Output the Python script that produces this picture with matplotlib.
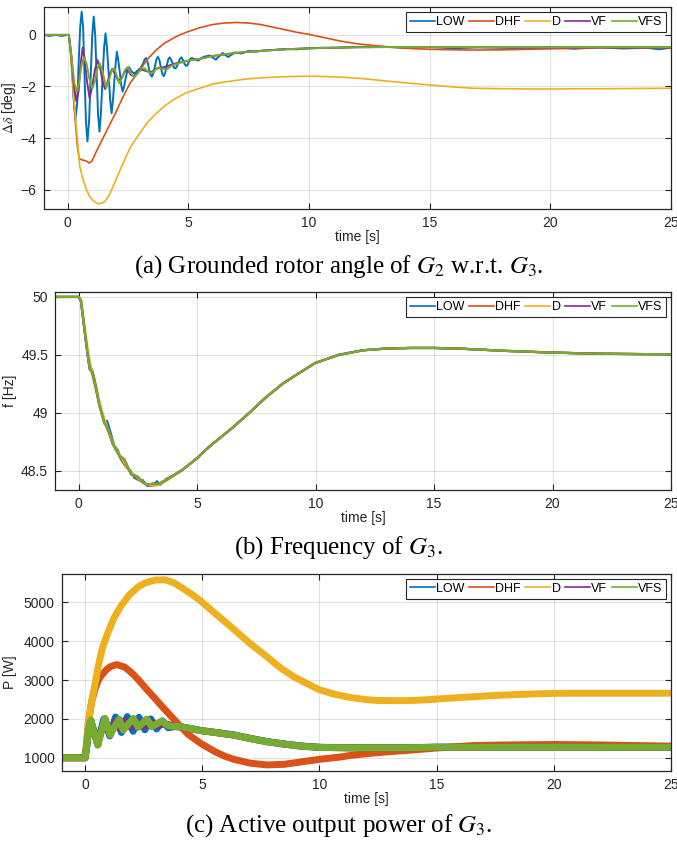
import matplotlib
matplotlib.use('Agg')
import matplotlib.pyplot as plt

# series names and MATLAB default colours
names = ['LOW', 'DHF', 'D', 'VF', 'VFS']
colors = ['#0072BD', '#D95319', '#EDB120', '#7E2F8E', '#77AC30']

# ---- (a) rotor angle deviation [deg] ----
d_low_t = [-1, -0.75, -0.5, -0.25, 0.05, 0.15, 0.25, 0.32, 0.40, 0.45, 0.52, 0.58, 0.64, 0.70, 0.76,
           0.82, 0.89, 0.95, 1.02, 1.08, 1.14, 1.20, 1.26, 1.32, 1.38, 1.45, 1.51, 1.57, 1.63, 1.70,
           1.76, 1.82, 1.88, 1.93, 1.99, 2.04, 2.10, 2.16, 2.22, 2.28, 2.34, 2.40, 2.47, 2.53, 2.60,
           2.65, 2.77, 2.90, 3.01, 3.13, 3.19, 3.25, 3.31, 3.37, 3.43, 3.49, 3.55, 3.62, 3.68, 3.74,
           3.80, 3.86, 3.92, 3.98, 4.04, 4.10, 4.17, 4.23, 4.29, 4.35, 4.41, 4.47, 4.53, 4.60, 4.66,
           4.72, 4.78, 4.84, 4.90, 4.96, 5.02, 5.08, 5.15, 5.27, 5.40, 5.64, 5.89, 6.14, 6.42, 6.65,
           6.93, 7.2, 7.5, 7.8, 8.2, 8.6, 9.0, 9.5, 10.0, 10.5, 11, 12, 13, 14, 15, 16, 17, 18, 19,
           20, 21, 22, 23, 24, 24.5, 25]
d_low = [0, -0.04, 0.0, -0.04, 0.0, -0.8, -2.5, -3.3, -2.6, -1.2, 0.3, 0.9, 0.3, -1.6, -3.4,
         -4.13, -3.3, -1.7, 0.0, 0.71, 0.0, -1.5, -3.1, -3.75, -3.0, -1.6, -0.5, 0.06, -0.5, -1.5,
         -2.5, -3.04, -2.5, -1.85, -1.1, -0.65, -1.0, -1.45, -1.95, -2.2, -2.0, -1.7, -1.4, -1.25, -1.35,
         -1.42, -1.5, -1.38, -1.3, -1.1, -0.95, -0.9, -1.05, -1.3, -1.55, -1.62, -1.5, -1.2, -0.95, -0.85,
         -0.97, -1.25, -1.5, -1.6, -1.48, -1.22, -0.95, -0.87, -0.97, -1.1, -1.28, -1.3, -1.22, -1.05, -0.92,
         -0.87, -0.98, -1.12, -1.2, -1.18, -1.05, -0.93, -0.9, -0.95, -1.0, -0.85, -0.8, -0.96, -0.7, -0.86,
         -0.68, -0.72, -0.62, -0.65, -0.6, -0.58, -0.55, -0.56, -0.52, -0.5, -0.5, -0.47, -0.46, -0.5, -0.47,
         -0.52, -0.48, -0.5, -0.52, -0.47, -0.54, -0.48, -0.53, -0.5, -0.56, -0.5]

d_dhf_t = [-1, 0.05, 0.15, 0.25, 0.33, 0.4, 0.48, 0.6, 0.75, 0.9, 1.0, 1.2, 1.6, 2.0, 2.3, 2.6, 2.99,
           3.3, 3.68, 4.0, 4.37, 4.65, 5.0, 5.48, 6.0, 6.5, 7.0, 7.5, 8.0, 8.5, 9.0, 9.5, 10, 10.6,
           11.3, 12.1, 13.1, 14, 15, 16, 16.8, 18, 19.6, 21, 22.3, 25]
d_dhf = [0, 0, -1.0, -2.4, -3.5, -4.3, -4.8, -4.85, -4.88, -4.97, -4.9, -4.5, -3.75, -3.0, -2.39, -1.85,
         -1.36, -0.95, -0.58, -0.33, -0.13, 0.0, 0.13, 0.28, 0.4, 0.46, 0.48, 0.46, 0.4, 0.3, 0.2, 0.1,
         0.02, -0.1, -0.24, -0.36, -0.45, -0.52, -0.56, -0.58, -0.59, -0.58, -0.55, -0.52, -0.5, -0.5]

d_d_t = [-1, 0.05, 0.15, 0.25, 0.36, 0.5, 0.64, 0.78, 0.91, 1.08, 1.26, 1.4, 1.54, 1.7, 1.88, 2.1, 2.3,
         2.6, 2.99, 3.3, 3.68, 4.0, 4.37, 4.9, 5.48, 6.03, 6.7, 7.41, 8.1, 8.8, 9.5, 10.17, 10.8, 11.55,
         12.3, 13.1, 14, 15, 16, 16.8, 18.1, 19.8, 21, 22.3, 23.5, 25]
d_d = [0, 0, -1.0, -2.4, -3.55, -5.1, -5.62, -6.0, -6.27, -6.45, -6.55, -6.53, -6.46, -6.25, -5.88, -5.4,
       -4.97, -4.35, -3.81, -3.4, -3.04, -2.77, -2.52, -2.25, -2.07, -1.9, -1.8, -1.71, -1.66, -1.63, -1.61,
       -1.6, -1.62, -1.65, -1.7, -1.78, -1.86, -1.94, -2.02, -2.07, -2.09, -2.1, -2.09, -2.09, -2.08, -2.07]

d_vf_t = [-1, 0.05, 0.15, 0.25, 0.36, 0.45, 0.53, 0.62, 0.7, 0.8, 0.91, 1.02, 1.13, 1.24, 1.35, 1.45,
          1.55, 1.65, 1.75, 1.85, 1.98, 2.1, 2.22, 2.35, 2.48, 2.62, 2.75, 2.9, 3.05, 3.25, 3.45, 3.7,
          4.0, 4.5, 5, 5.5, 6, 7, 8, 9, 10, 11, 12, 14, 16, 18, 20, 22, 25]
d_vf = [0, 0, -0.8, -1.9, -2.58, -2.2, -1.2, -0.5, -0.9, -1.8, -2.45, -2.0, -1.35, -0.98, -1.3, -1.8,
        -2.1, -1.85, -1.5, -1.32, -1.55, -1.78, -1.7, -1.45, -1.35, -1.55, -1.6, -1.45, -1.35, -1.4, -1.45,
        -1.3, -1.25, -1.1, -1.0, -0.92, -0.82, -0.7, -0.62, -0.56, -0.52, -0.5, -0.48, -0.47, -0.48, -0.48,
        -0.49, -0.48, -0.48]

d_vfs_t = [-1, 0.05, 0.15, 0.28, 0.39, 0.48, 0.58, 0.68, 0.78, 0.9, 1.02, 1.12, 1.22, 1.33, 1.45, 1.6,
           1.72, 1.82, 1.93, 2.04, 2.14, 2.26, 2.38, 2.48, 2.6, 2.75, 2.9, 3.05, 3.2, 3.35, 3.5, 3.7, 3.9,
           4.1, 4.3, 4.6, 5, 5.5, 6, 6.5, 7, 7.5, 8, 9, 10, 11, 12, 13, 14, 16, 18, 20, 22, 25]
d_vfs = [0, 0, -0.8, -1.9, -2.2, -1.8, -1.15, -0.87, -1.1, -1.7, -2.07, -1.85, -1.35, -1.1, -1.45, -2.05,
         -1.75, -1.4, -1.29, -1.6, -1.88, -1.65, -1.35, -1.25, -1.45, -1.65, -1.5, -1.3, -1.3, -1.45, -1.48,
         -1.3, -1.3, -1.35, -1.2, -1.1, -1.0, -0.93, -0.82, -0.75, -0.7, -0.65, -0.62, -0.56, -0.52, -0.5,
         -0.48, -0.47, -0.47, -0.47, -0.48, -0.48, -0.47, -0.47]

# ---- (b) frequency [Hz] ----
f_t = [-1, 0, 0.1, 0.24, 0.38, 0.48, 0.59, 0.73, 0.87, 1.08, 1.23, 1.44, 1.72, 1.93, 2.21, 2.49, 2.85,
       3.13, 3.41, 3.83, 4.39, 5.0, 5.52, 6.0, 6.48, 7.2, 7.88, 8.6, 9.28, 9.98, 10.97, 12, 13, 14, 15,
       16, 17, 18, 20, 22, 25]
f_smooth = [50, 50, 49.96, 49.72, 49.5, 49.4, 49.32, 49.2, 49.07, 48.93, 48.85, 48.74, 48.63, 48.56, 48.48,
            48.43, 48.38, 48.38, 48.39, 48.44, 48.51, 48.61, 48.71, 48.79, 48.87, 49.0, 49.13, 49.25,
            49.34, 49.43, 49.5, 49.54, 49.555, 49.56, 49.56, 49.555, 49.545, 49.535, 49.52, 49.51, 49.505]
f_lag = [50, 50, 49.98, 49.77, 49.55, 49.43, 49.35, 49.24, 49.1, 48.95, 48.87, 48.75, 48.64, 48.57, 48.49,
         48.44, 48.38, 48.37, 48.38, 48.43, 48.51, 48.61, 48.71, 48.79, 48.87, 49.0, 49.13, 49.25,
         49.34, 49.43, 49.5, 49.54, 49.555, 49.56, 49.56, 49.555, 49.545, 49.535, 49.52, 49.51, 49.505]
f_step = [50, 50, 49.96, 49.73, 49.5, 49.37, 49.35, 49.22, 49.07, 48.91, 48.87, 48.73, 48.63, 48.6, 48.47,
          48.45, 48.38, 48.39, 48.39, 48.44, 48.51, 48.61, 48.71, 48.79, 48.87, 49.0, 49.13, 49.25,
          49.34, 49.43, 49.5, 49.54, 49.555, 49.56, 49.56, 49.555, 49.545, 49.535, 49.52, 49.51, 49.505]
f_low_t = [-1, 0, 0.1, 0.24, 0.38, 0.46, 0.55, 0.65, 0.8, 0.95, 1.1, 1.2, 1.32, 1.5, 1.65, 1.78, 1.95,
           2.2, 2.35, 2.55, 2.7, 2.9, 3.1, 3.3, 3.45, 3.7, 3.9, 4.39, 5.0, 5.52, 6.0, 6.48, 7.2, 7.88,
           8.6, 9.28, 9.98, 10.97, 12, 13, 14, 15, 16, 17, 18, 20, 22, 25]
f_low = [50, 50, 49.96, 49.73, 49.5, 49.38, 49.38, 49.3, 49.15, 49.02, 48.92, 48.93, 48.85, 48.72, 48.68,
         48.6, 48.55, 48.5, 48.44, 48.42, 48.42, 48.37, 48.37, 48.41, 48.38, 48.43, 48.45, 48.51, 48.61,
         48.71, 48.79, 48.87, 49.0, 49.13, 49.25, 49.34, 49.43, 49.5, 49.54, 49.555, 49.56, 49.56, 49.555,
         49.545, 49.535, 49.52, 49.51, 49.505]

# ---- (c) active power [W] ----
p_d_t = [-1, 0, 0.07, 0.14, 0.25, 0.36, 0.47, 0.57, 0.75, 0.99, 1.25, 1.56, 1.9, 2.27, 2.6, 2.98, 3.41,
         3.8, 4.12, 4.5, 4.91, 5.5, 6.34, 7.0, 7.76, 8.3, 8.9, 9.5, 10.0, 10.6, 11.32, 12.0, 12.46, 13.0,
         13.75, 14.5, 15.03, 16, 17.3, 18.5, 20, 21, 22.3, 23.5, 25]
p_d = [1000, 1000, 1400, 1927, 2350, 2700, 3050, 3386, 3850, 4245, 4620, 4931, 5200, 5403, 5510, 5575,
       5580, 5500, 5380, 5230, 5050, 4740, 4310, 3960, 3600, 3330, 3086, 2900, 2750, 2640, 2550, 2495,
       2475, 2470, 2470, 2490, 2513, 2550, 2598, 2630, 2658, 2660, 2660, 2660, 2660]

p_dhf_t = [-1, 0, 0.07, 0.14, 0.28, 0.43, 0.57, 0.71, 0.9, 1.07, 1.35, 1.7, 2.0, 2.27, 2.6, 2.98, 3.3,
           3.69, 4.0, 4.4, 4.91, 5.3, 5.63, 6.0, 6.34, 7.05, 7.76, 8.48, 9.19, 10, 10.9, 11.32, 12.3,
           12.75, 13.75, 15, 16.6, 18, 20, 22, 25]
p_dhf = [1000, 1000, 1400, 1900, 2442, 2785, 3000, 3129, 3260, 3343, 3400, 3330, 3180, 3010, 2780, 2528,
         2310, 2056, 1850, 1600, 1380, 1240, 1130, 1030, 960, 860, 815, 830, 890, 960, 1020, 1060, 1120,
         1145, 1190, 1250, 1316, 1330, 1342, 1330, 1300]

p_vfs_t = [-1, 0, 0.07, 0.14, 0.24, 0.39, 0.54, 0.7, 0.85, 0.96, 1.07, 1.26, 1.45, 1.54, 1.63, 1.85,
           2.06, 2.17, 2.27, 2.45, 2.63, 2.74, 2.84, 3.05, 3.27, 3.41, 3.55, 3.8, 4.12, 4.5, 4.97, 5.54,
           6.34, 7.0, 7.76, 8.5, 9.19, 10, 11.32, 13.46, 15, 17, 20, 22, 25]
p_vfs = [1000, 1000, 1300, 1670, 1970, 1650, 1326, 1700, 2013, 1800, 1584, 1800, 1996, 1850, 1712, 1870,
         2013, 1900, 1781, 1890, 1996, 1900, 1798, 1870, 1944, 1880, 1824, 1810, 1798, 1750, 1695, 1652,
         1584, 1500, 1412, 1350, 1300, 1266, 1255, 1255, 1270, 1270, 1275, 1270, 1270]

p_low_t = [-1, 0, 0.07, 0.14, 0.24, 0.39, 0.54, 0.67, 0.8, 0.92, 1.05, 1.18, 1.3, 1.42, 1.55, 1.68, 1.8,
           1.92, 2.05, 2.18, 2.3, 2.42, 2.55, 2.68, 2.8, 2.92, 3.05, 3.18, 3.3, 3.42, 3.55, 3.8, 4.12, 4.5,
           4.97, 5.54, 6.34, 7.0, 7.76, 8.5, 9.19, 10, 11.32, 13.46, 15, 17, 20, 22, 25]
p_low = [1000, 1000, 1300, 1670, 1970, 1650, 1330, 1700, 2000, 1800, 1560, 1820, 2050, 1860, 1650, 1870,
         2060, 1880, 1680, 1880, 2040, 1880, 1720, 1870, 2000, 1870, 1740, 1850, 1950, 1860, 1770, 1800,
         1790, 1750, 1700, 1655, 1590, 1505, 1418, 1355, 1305, 1270, 1258, 1258, 1272, 1272, 1277, 1272, 1272]

p_vf_t = [-1, 0, 0.07, 0.14, 0.24, 0.39, 0.54, 0.7, 0.85, 1.07, 1.3, 1.5, 1.7, 1.95, 2.2, 2.5, 2.8,
          3.1, 3.4, 3.8, 4.12, 4.97, 5.54, 6.34, 7.0, 7.76, 8.5, 9.19, 10, 11.32, 13.46, 15, 17, 20, 22, 25]
p_vf = [1000, 1000, 1300, 1670, 1950, 1660, 1350, 1700, 1980, 1620, 1950, 1750, 1960, 1780, 1950, 1800,
        1930, 1820, 1880, 1810, 1795, 1695, 1652, 1584, 1500, 1412, 1350, 1300, 1266, 1255, 1255, 1270,
        1270, 1275, 1270, 1270]

xticks = [0, 5, 10, 15, 20, 25]

plt.rcParams['font.family'] = ['Liberation Sans', 'DejaVu Sans']
plt.rcParams['mathtext.fontset'] = 'stix'

ink = '#262626'


def style_axes(ax, ylim, yticks, ylabel, label_x):
    ax.set_xlim(-1, 25)
    ax.set_ylim(*ylim)
    ax.set_xticks(xticks)
    ax.set_yticks(yticks)
    ax.grid(True, color=ink, alpha=0.13, linewidth=0.8)
    ax.set_axisbelow(True)
    ax.tick_params(direction='in', length=4, width=0.8, colors=ink, labelsize=10,
                   top=True, right=True, pad=5)
    for s in ax.spines.values():
        s.set_color(ink)
        s.set_linewidth(0.9)
    ax.set_xlabel('time [s]', fontsize=10, color=ink, labelpad=0)
    ax.set_ylabel(ylabel, fontsize=10, color=ink)
    ax.yaxis.set_label_coords(label_x, 0.5)


def add_legend(ax):
    leg = ax.legend(names, loc='upper right', ncol=5, fontsize=9, handlelength=2.0,
                    handletextpad=0.1, columnspacing=0.35, borderpad=0.3, borderaxespad=0.4,
                    fancybox=False, framealpha=1, edgecolor=ink)
    leg.get_frame().set_linewidth(0.8)
    for h in leg.legend_handles:
        h.set_linewidth(1.2)


fig = plt.figure(figsize=(6.77, 8.46), dpi=100)

# (a)
ax1 = fig.add_axes([0.0643, 0.753, 0.9267, 0.2384])
ax1.plot(d_low_t, d_low, color=colors[0], lw=1.4)
ax1.plot(d_dhf_t, d_dhf, color=colors[1], lw=1.2)
ax1.plot(d_d_t, d_d, color=colors[2], lw=1.2)
ax1.plot(d_vf_t, d_vf, color=colors[3], lw=1.4)
ax1.plot(d_vfs_t, d_vfs, color=colors[4], lw=1.4)
style_axes(ax1, (-6.75, 1.07), [-6, -4, -2, 0], r'$\Delta\delta$ [deg]', -0.041)
add_legend(ax1)

# (b)
ax2 = fig.add_axes([0.0812, 0.4208, 0.9099, 0.2337])
ax2.plot(f_low_t, f_low, color=colors[0], lw=1.6)
ax2.plot(f_t, f_smooth, color=colors[1], lw=1.6)
ax2.plot(f_t, f_lag, color=colors[2], lw=1.6)
ax2.plot(f_t, f_step, color=colors[3], lw=1.6)
ax2.plot(f_t, f_step, color=colors[4], lw=1.6)
style_axes(ax2, (48.335, 50.04), [48.5, 49, 49.5, 50], 'f [Hz]', -0.062)
ax2.set_yticklabels(['48.5', '49', '49.5', '50'])
add_legend(ax2)

# (c)
ax3 = fig.add_axes([0.0911, 0.0887, 0.9, 0.2328])
ax3.plot(p_low_t, p_low, color=colors[0], lw=5)
ax3.plot(p_dhf_t, p_dhf, color=colors[1], lw=5)
ax3.plot(p_d_t, p_d, color=colors[2], lw=5)
ax3.plot(p_vf_t, p_vf, color=colors[3], lw=5)
ax3.plot(p_vfs_t, p_vfs, color=colors[4], lw=5)
style_axes(ax3, (660, 5730), [1000, 2000, 3000, 4000, 5000], 'P [W]', -0.074)
add_legend(ax3)

cap = dict(ha='center', va='center', fontsize=18, family='Liberation Serif')
fig.text(0.5, 1 - 267 / 846, r'(a) Grounded rotor angle of $G_2$ w.r.t. $G_3$.', **cap)
fig.text(0.5, 1 - 548 / 846, r'(b) Frequency of $G_3$.', **cap)
fig.text(0.5, 1 - 826 / 846, r'(c) Active output power of $G_3$.', **cap)

fig.savefig('out.png', dpi=100)
